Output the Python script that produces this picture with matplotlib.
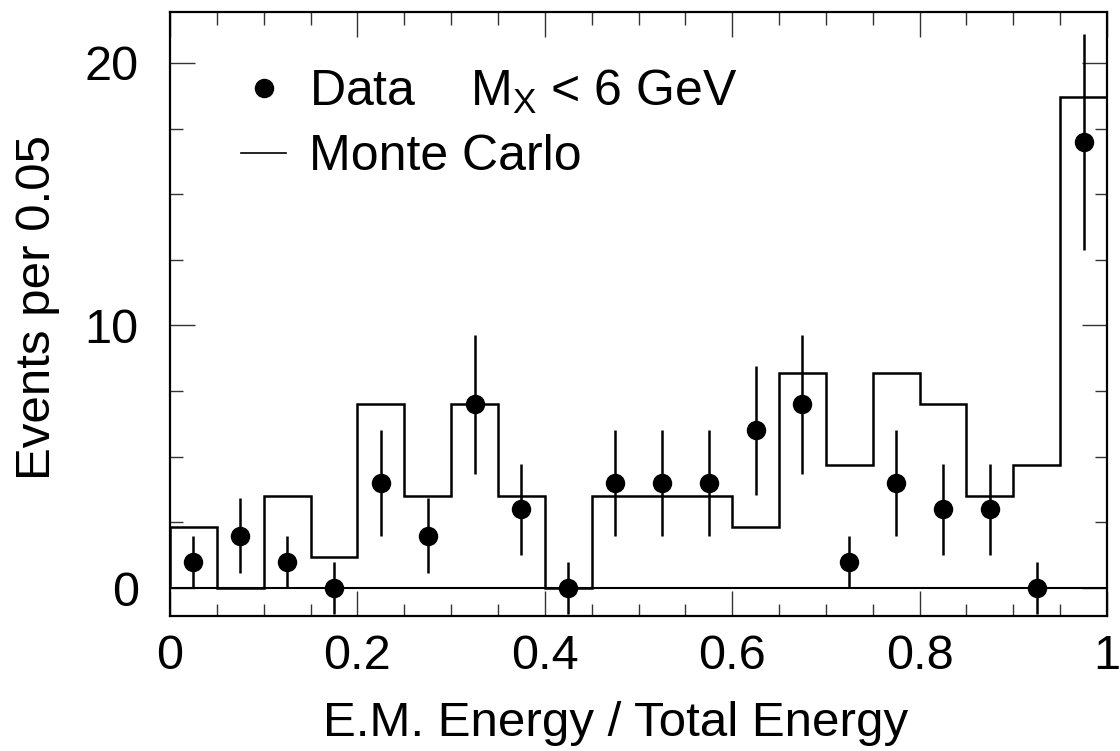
import numpy as np
import matplotlib
matplotlib.use('Agg')
import matplotlib.pyplot as plt
from matplotlib.lines import Line2D
from matplotlib.ticker import MultipleLocator

plt.rcParams['font.family'] = ['Liberation Sans', 'DejaVu Sans']
plt.rcParams['mathtext.fontset'] = 'custom'
plt.rcParams['mathtext.rm'] = 'Liberation Sans'

# bin edges and data (events per 0.05)
bin_edges = np.linspace(0, 1, 21)
data_counts = [1, 2, 1, 0, 4, 2, 7, 3, 0, 4, 4, 4, 6, 7, 1, 4, 3, 3, 0, 17]
data_errors = [1, 1.41, 1, 1, 2, 1.41, 2.65, 1.73, 1, 2, 2, 2, 2.45, 2.65, 1, 2, 1.73, 1.73, 1, 4.12]
mc_counts = [2.34, 0, 3.51, 1.17, 7.02, 3.51, 7.02, 3.51, 0, 3.51,
             3.51, 3.51, 2.34, 8.19, 4.68, 8.19, 7.02, 3.51, 4.68, 18.72]

centers = 0.5 * (bin_edges[:-1] + bin_edges[1:])

fig = plt.figure(figsize=(11.2, 7.51), dpi=100)
ax = fig.add_axes([0.1518, 0.1798, 0.8366, 0.8042])

# zero line
ax.axhline(0, color='black', lw=1.5)

# MC histogram
ax.stairs(mc_counts, bin_edges, color='black', lw=1.8)

# data points
ax.errorbar(centers, data_counts, yerr=data_errors, fmt='o', color='black',
            ms=13, elinewidth=1.8, capsize=0)

ax.set_xlim(0, 1)
ax.set_ylim(-1.065, 21.94)

ax.xaxis.set_major_locator(MultipleLocator(0.2))
ax.xaxis.set_minor_locator(MultipleLocator(0.05))
ax.yaxis.set_major_locator(MultipleLocator(10))
ax.yaxis.set_minor_locator(MultipleLocator(2.5))
ax.set_xticks([0, 0.2, 0.4, 0.6, 0.8, 1.0])
ax.set_xticklabels(['0', '0.2', '0.4', '0.6', '0.8', '1'])

ax.tick_params(which='both', direction='in', top=True, right=True,
               labelsize=35, width=1.0, color='#333333')
ax.tick_params(which='major', length=18)
ax.tick_params(which='minor', length=9)
ax.tick_params(axis='x', which='major', pad=13)
ax.tick_params(axis='y', which='major', pad=22.5)

for s in ax.spines.values():
    s.set_linewidth(1.6)

ax.set_xlabel('E.M. Energy / Total Energy', fontsize=35.5, va='baseline')
ax.xaxis.set_label_coords(0.475, -0.199)
ax.set_ylabel('Events per 0.05', fontsize=35.5, va='baseline', ha='center',
              rotation_mode='anchor')
ax.yaxis.set_label_coords(-0.128, 0.51)

handles = [Line2D([], [], marker='o', color='black', ls='none', ms=13),
           Line2D([], [], color='black', lw=1.2)]
ax.legend(handles, ['Data    $\\mathrm{M_X}$ < 6 GeV', 'Monte Carlo'],
          loc='upper left', bbox_to_anchor=(0.0758, 0.908), frameon=False,
          fontsize=36, handlelength=0.9, handletextpad=0.45, labelspacing=0.37,
          borderaxespad=0, borderpad=0)

fig.savefig('out.png', dpi=100)
